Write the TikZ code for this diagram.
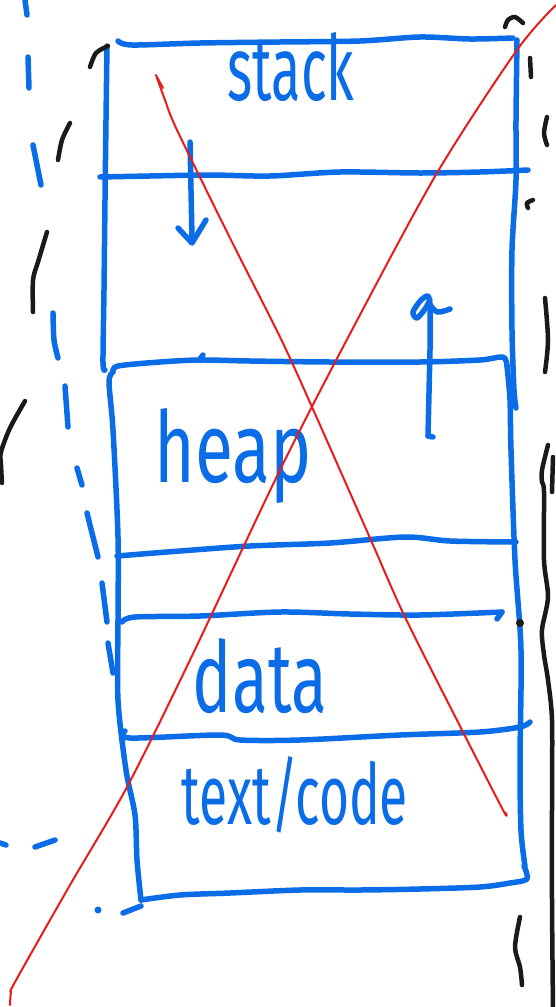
\documentclass[tikz,border=0pt]{standalone}
\usepackage{fontspec}
\setmainfont{Fira Sans}
\usepackage{graphicx}
\definecolor{pen}{RGB}{10,108,230}
\definecolor{ink}{RGB}{26,26,26}
\definecolor{redpen}{RGB}{232,28,28}
\tikzset{
  blueline/.style={draw=pen, line width=5.5pt, line cap=round, line join=round},
  inkline/.style={draw=ink, line width=4.5pt, line cap=round, line join=round},
  redline/.style={draw=redpen, line width=2pt, line cap=round, line join=round},
  lbl/.style={text=pen, inner sep=0pt, anchor=base},
}
\begin{document}
\begin{tikzpicture}[x=1pt,y=-1pt]
\useasboundingbox (0,0) rectangle (555,1007);

% ---------- stack box ----------
\draw[blueline] plot[smooth] coordinates {(118,41) (132,45) (200,43) (280,42) (360,41) (420,37) (470,39) (513,38)};
\draw[blueline] plot[smooth] coordinates {(107,46) (106,120) (105,200) (104,290) (103,362) (105,370)};
\draw[blueline] plot[smooth] coordinates {(517,40) (516,120) (516,180) (512,250) (512,330) (514,390) (516,408)};
\draw[blueline] plot[smooth] coordinates {(100,177) (150,176) (210,175) (270,176) (340,172) (420,173) (480,172) (528,170)};
% down arrow
\draw[blueline] (190,142) -- (192,238);
\draw[blueline] (178,228) -- (192,243) -- (206,220);

% ---------- heap / data / text box ----------
\draw[blueline] plot[smooth] coordinates {(113,372) (118,366) (160,362) (200,360) (250,361) (330,362) (420,362) (480,360) (503,357) (507,366)};
\draw[blueline] (200,359) -- (203,355);
\draw[blueline] plot[smooth] coordinates {(113,372) (109,382) (113,430) (118,537) (118,620) (118,700) (126,770) (135,815) (137,860) (141,900)};
\draw[blueline] plot[smooth] coordinates {(141,900) (180,895) (230,893) (300,890) (360,890) (420,889) (480,887) (510,883) (527,879) (524,866)};
\draw[blueline] plot[smooth] coordinates {(507,366) (510,400) (511,450) (515,560) (521,650) (520,760) (521,830) (525,866)};
% dividers
\draw[blueline] plot[smooth] coordinates {(117,556) (180,551) (250,546) (330,543) (405,537) (450,541) (516,542)};
\draw[blueline] plot[smooth] coordinates {(122,622) (135,617) (200,616) (280,612) (350,614) (420,615) (502,612)};
\draw[blueline] (502,612) -- (497,619);
\draw[blueline] plot[smooth] coordinates {(125,731) (130,738) (220,735) (240,740) (300,740) (400,735) (480,732) (520,727) (530,722)};
% up arrow with hand-drawn head
\draw[blueline] (428,436) -- (430,350) -- (430,305);
\draw[blueline] (428,436) -- (433,437);
\draw[blueline] plot[smooth] coordinates {(430,304) (428,296) (421,300) (413,312) (417,318) (425,309) (430,300)};
\draw[blueline] plot[smooth] coordinates {(430,305) (437,312) (444,311) (450,309)};

% ---------- labels ----------
\node[lbl] (stack) at (291,100) {\resizebox{127pt}{68pt}{stack}};
\node[lbl] (heap) at (233,482) {\resizebox{157pt}{74pt}{heap}};
\node[lbl] (data) at (260,712) {\resizebox{134pt}{74pt}{data}};
\node[lbl] (code) at (295,824) {\resizebox{226pt}{68pt}{text/code}};

% ---------- blue dashed outline on the left ----------
\draw[blueline] (25,0) -- (27,15);
\draw[blueline] (28,57) -- (29,88);
\draw[blueline] (33,145) -- (41,185);
\draw[blueline] plot[smooth] coordinates {(53,313) (54,340) (58,358)};
\draw[blueline] (65,386) -- (68,427);
\draw[blueline] (77,468) -- (82,485);
\draw[blueline] (87,513) -- (98,557);
\draw[blueline] (102,583) -- (107,622);
\draw[blueline] (108,643) -- (113,673);
\draw[blueline] (0,843) -- (6,845);
\draw[blueline] (35,847) -- (55,840);
\fill[pen] (98,910) circle (3.5pt);
\draw[blueline] (123,913) -- (141,906);

% ---------- black strokes ----------
\draw[inkline] plot[smooth] coordinates {(90,67) (96,53) (108,46)};
\draw[inkline] plot[smooth] coordinates {(58,160) (62,140) (70,123)};
\draw[inkline] plot[smooth] coordinates {(33,312) (33,280) (38,262) (47,232)};
\draw[inkline] plot[smooth] coordinates {(25,401) (10,428) (1,452) (1,465) (2,483)};
\draw[inkline] plot[smooth] coordinates {(505,27) (508,20) (515,17) (523,23)};
\draw[inkline] (530,58) -- (531,77);
\draw[inkline] plot[smooth] coordinates {(547,117) (544,133) (547,145)};
\draw[inkline] plot[smooth] coordinates {(528,208) (527,203) (533,200)};
\draw[inkline] plot[smooth] coordinates {(545,298) (548,340) (545,372)};
\draw[inkline] plot[smooth] coordinates {(548,445) (542,470) (542,482) (544,492) (544,560) (548,597) (542,630) (544,655) (548,680) (552,720) (552,800) (552,900) (553,1010)};
\draw[inkline] (553,457) -- (552,492);
\fill[ink] (520,623) circle (4pt);
\draw[inkline] plot[smooth] coordinates {(520,917) (515,947) (520,967) (522,985)};

% ---------- red cross ----------
\draw[redline] plot[smooth] coordinates {(156,75) (165,100) (177,130) (230,238) (280,337) (312,407) (370,538) (405,617) (463,732) (503,810) (506,813)};
\draw[redline] (157,77) -- (163,88);
\draw[redline] plot[smooth] coordinates {(556,5) (517,50) (437,173) (352,330) (280,470) (190,660) (127,787) (70,885) (15,982) (11,992) (10,1005)};
\end{tikzpicture}
\end{document}
